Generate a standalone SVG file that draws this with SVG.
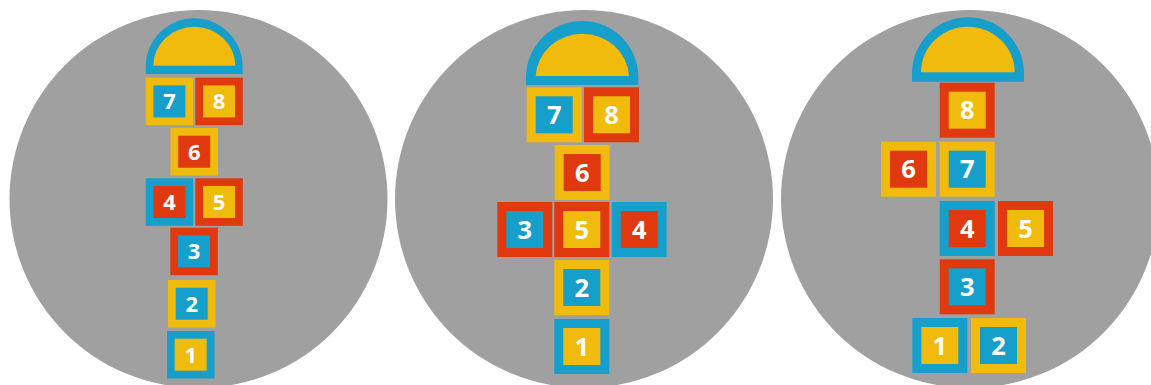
<svg xmlns="http://www.w3.org/2000/svg" width="1151" height="385" viewBox="0 0 1151 385">
<style>
.bg{fill:#a0a0a0}
.B{fill:#169fca}
.Y{fill:#f0bb0c}
.R{fill:#e0390f}
.t1{font-family:"Open Sans","Noto Sans",sans-serif;font-weight:700;font-size:22px;fill:#fff;text-anchor:middle}
.t2{font-family:"Open Sans","Noto Sans",sans-serif;font-weight:700;font-size:25.5px;fill:#fff;text-anchor:middle}
</style>
<rect width="1151" height="385" fill="#fff"/>
<g id="court1">
<circle class="bg" cx="198.5" cy="199" r="189"/>
<g id="c1-dome"><path class="B" d="M145.7,74 V66.8 A48.5,48.5 0 0 1 242.7,66.8 V74 Z"/><path class="Y" d="M153.3,65.7 A41,39 0 0 1 235.3,65.7 Z"/></g>
<g id="c1-7" transform="translate(145.7,77.7)"><rect class="Y" width="47.5" height="47.5"/><rect class="B" x="7.7" y="7.7" width="32" height="32"/><text class="t1" x="23.75" y="31.7">7</text></g>
<g id="c1-8" transform="translate(195.3,77.7)"><rect class="R" width="47.5" height="47.5"/><rect class="Y" x="7.7" y="7.7" width="32" height="32"/><text class="t1" x="23.75" y="31.7">8</text></g>
<g id="c1-6" transform="translate(170.5,128)"><rect class="Y" width="47.5" height="47.5"/><rect class="R" x="7.7" y="7.7" width="32" height="32"/><text class="t1" x="23.75" y="31.7">6</text></g>
<g id="c1-4" transform="translate(145.7,178.3)"><rect class="B" width="47.5" height="47.5"/><rect class="R" x="7.7" y="7.7" width="32" height="32"/><text class="t1" x="23.75" y="31.7">4</text></g>
<g id="c1-5" transform="translate(195.3,178.3)"><rect class="R" width="47.5" height="47.5"/><rect class="Y" x="7.7" y="7.7" width="32" height="32"/><text class="t1" x="23.75" y="31.7">5</text></g>
<g id="c1-3" transform="translate(170.3,227.7)"><rect class="R" width="47.5" height="47.5"/><rect class="B" x="7.7" y="7.7" width="32" height="32"/><text class="t1" x="23.75" y="31.7">3</text></g>
<g id="c1-2" transform="translate(168,280)"><rect class="Y" width="47.5" height="47.5"/><rect class="B" x="7.7" y="7.7" width="32" height="32"/><text class="t1" x="23.75" y="31.7">2</text></g>
<g id="c1-1" transform="translate(167,331)"><rect class="B" width="47.5" height="47.5"/><rect class="Y" x="7.7" y="7.7" width="32" height="32"/><text class="t1" x="23.75" y="31.7">1</text></g>
</g>
<g id="court2">
<circle class="bg" cx="584" cy="199" r="189"/>
<g id="c2-dome"><path class="B" d="M526,85 V77.2 A56.2,56.2 0 0 1 638.4,77.2 V85 Z"/><path class="Y" d="M535.7,76 A46.7,44.3 0 0 1 629,76 Z"/></g>
<g id="c2-7" transform="translate(526.7,87.3)"><rect class="Y" width="55" height="55"/><rect class="B" x="9" y="9" width="37" height="37"/><text class="t2" x="27.5" y="36.6">7</text></g>
<g id="c2-8" transform="translate(584,87.3)"><rect class="R" width="55" height="55"/><rect class="Y" x="9" y="9" width="37" height="37"/><text class="t2" x="27.5" y="36.6">8</text></g>
<g id="c2-6" transform="translate(554.7,145)"><rect class="Y" width="55" height="55"/><rect class="R" x="9" y="9" width="37" height="37"/><text class="t2" x="27.5" y="36.6">6</text></g>
<g id="c2-3" transform="translate(497.3,202)"><rect class="R" width="55" height="55"/><rect class="B" x="9" y="9" width="37" height="37"/><text class="t2" x="27.5" y="36.6">3</text></g>
<g id="c2-5" transform="translate(554.3,202)"><rect class="R" width="55" height="55"/><rect class="Y" x="9" y="9" width="37" height="37"/><text class="t2" x="27.5" y="36.6">5</text></g>
<g id="c2-4" transform="translate(611.7,202)"><rect class="B" width="55" height="55"/><rect class="R" x="9" y="9" width="37" height="37"/><text class="t2" x="27.5" y="36.6">4</text></g>
<g id="c2-2" transform="translate(554.3,260)"><rect class="Y" width="55" height="55"/><rect class="B" x="9" y="9" width="37" height="37"/><text class="t2" x="27.5" y="36.6">2</text></g>
<g id="c2-1" transform="translate(554.3,319)"><rect class="B" width="55" height="55"/><rect class="Y" x="9" y="9" width="37" height="37"/><text class="t2" x="27.5" y="36.6">1</text></g>
</g>
<g id="court3">
<circle class="bg" cx="970" cy="199" r="189"/>
<g id="c3-dome"><path class="B" d="M912,81.7 V73.3 A56,56 0 0 1 1024,73.3 V81.7 Z"/><path class="Y" d="M921,72.3 A46.8,45.6 0 0 1 1014.7,72.3 Z"/></g>
<g id="c3-8" transform="translate(939.7,82.7)"><rect class="R" width="55" height="55"/><rect class="Y" x="9" y="9" width="37" height="37"/><text class="t2" x="27.5" y="36.6">8</text></g>
<g id="c3-6" transform="translate(881,141.7)"><rect class="Y" width="55" height="55"/><rect class="R" x="9" y="9" width="37" height="37"/><text class="t2" x="27.5" y="36.6">6</text></g>
<g id="c3-7" transform="translate(939.7,141.7)"><rect class="Y" width="55" height="55"/><rect class="B" x="9" y="9" width="37" height="37"/><text class="t2" x="27.5" y="36.6">7</text></g>
<g id="c3-4" transform="translate(939.7,201)"><rect class="B" width="55" height="55"/><rect class="R" x="9" y="9" width="37" height="37"/><text class="t2" x="27.5" y="36.6">4</text></g>
<g id="c3-5" transform="translate(998,201)"><rect class="R" width="55" height="55"/><rect class="Y" x="9" y="9" width="37" height="37"/><text class="t2" x="27.5" y="36.6">5</text></g>
<g id="c3-3" transform="translate(939.7,259.3)"><rect class="R" width="55" height="55"/><rect class="B" x="9" y="9" width="37" height="37"/><text class="t2" x="27.5" y="36.6">3</text></g>
<g id="c3-1" transform="translate(912.3,318)"><rect class="B" width="55" height="55"/><rect class="Y" x="9" y="9" width="37" height="37"/><text class="t2" x="27.5" y="36.6">1</text></g>
<g id="c3-2" transform="translate(971,318)"><rect class="Y" width="55" height="55"/><rect class="B" x="9" y="9" width="37" height="37"/><text class="t2" x="27.5" y="36.6">2</text></g>
</g>
</svg>
